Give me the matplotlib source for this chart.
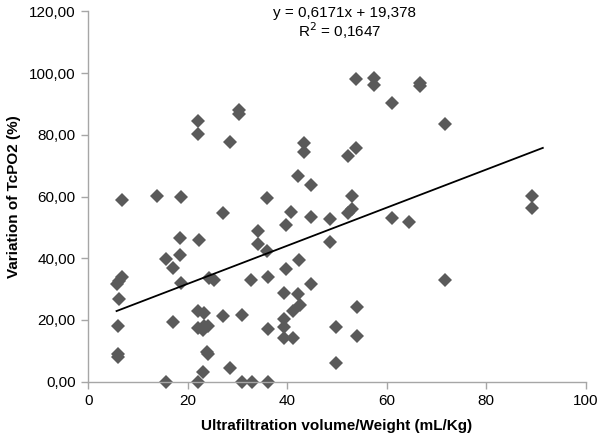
import numpy as np
import matplotlib.pyplot as plt
from matplotlib.ticker import FuncFormatter

plt.rcParams['font.family'] = ['Liberation Sans', 'DejaVu Sans']
plt.rcParams['font.size'] = 10

# ultrafiltration volume / weight (mL/Kg)
uf = [6.8, 13.8, 18.6, 22.0, 22.0, 30.4, 30.4, 28.5, 27.2, 18.4,
      22.2, 15.6, 18.5, 53.8, 57.5, 57.5, 61.0, 43.4, 43.4, 52.3,
      53.9, 42.2, 44.7, 35.9, 53.0, 40.8, 39.7, 44.7, 48.6, 52.3,
      53.0, 61.0, 64.5, 34.1, 34.1, 35.9, 48.6, 42.4, 66.8, 66.8,
      71.7, 89.3, 89.3, 17.1, 6.7, 6.2, 5.7, 18.6, 24.3, 25.3,
      32.7, 6.2, 22.0, 23.3, 27.2, 30.9, 17.1, 5.9, 22.1, 23.0,
      24.1, 23.2, 23.8, 24.0, 5.9, 5.9, 23.0, 28.5, 15.6, 22.1,
      30.9, 33.0, 36.2, 39.7, 36.2, 44.7, 39.4, 42.2, 42.6, 41.1,
      39.4, 39.4, 36.2, 39.4, 41.1, 54.0, 49.9, 54.0, 49.9, 71.7]

# variation of TcPO2 (%)
tcpo2 = [58.9, 60.2, 59.8, 84.5, 80.3, 88.1, 86.8, 77.6, 54.7, 46.5,
         46.0, 39.7, 41.0, 98.1, 98.3, 96.2, 90.2, 77.5, 74.4, 73.2,
         75.8, 66.8, 63.9, 59.6, 60.2, 55.1, 50.8, 53.4, 52.7, 54.6,
         55.9, 53.2, 51.9, 48.8, 44.5, 42.5, 45.2, 39.3, 96.9, 95.8,
         83.5, 60.2, 56.3, 37.0, 33.8, 32.7, 31.7, 32.1, 33.5, 33.0,
         33.0, 26.9, 23.0, 22.2, 21.3, 21.5, 19.3, 18.0, 17.3, 16.8,
         18.1, 18.1, 9.7, 8.9, 8.9, 8.1, 3.2, 4.3, 0.0, 0.0,
         0.0, 0.0, 0.0, 36.4, 33.8, 31.6, 28.7, 28.3, 24.9, 22.9,
         20.3, 17.8, 17.1, 14.2, 14.3, 24.3, 17.8, 14.7, 6.0, 33.0]

slope = 0.6171
intercept = 19.378

fig = plt.figure(figsize=(6, 4.41), dpi=100)
ax = fig.add_axes([0.147, 0.1345, 0.829, 0.8395])

ax.plot(uf, tcpo2, 'D', color='#5a5a5a', markersize=6.8, markeredgewidth=0, clip_on=False)

xl = np.array([min(uf), max(uf) + 2.1])
ax.plot(xl, slope * xl + intercept, color='black', linewidth=1.3)

ax.set_xlim(0, 100)
ax.set_ylim(0, 120)
ax.set_xticks(np.arange(0, 101, 20))
ax.set_yticks(np.arange(0, 121, 20))
ax.yaxis.set_major_formatter(FuncFormatter(lambda v, p: ('%.2f' % v).replace('.', ',')))

for s in ['top', 'right']:
    ax.spines[s].set_visible(False)
for s in ['left', 'bottom']:
    ax.spines[s].set_color('#a6a6a6')
    ax.spines[s].set_linewidth(1.0)
ax.tick_params(direction='out', length=5, width=1, color='#a6a6a6', labelsize=11, pad=4)

ax.set_xlabel('Ultrafiltration volume/Weight (mL/Kg)', fontsize=11, fontweight='bold', labelpad=8)
ax.set_ylabel('Variation of TcPO2 (%)', fontsize=11, fontweight='bold', labelpad=6)

ax.text(51.6, 119.6, 'y = 0,6171x + 19,378', ha='center', va='center', fontsize=11, clip_on=False)
ax.text(50.6, 113.9, 'R$^2$ = 0,1647', ha='center', va='center', fontsize=11, clip_on=False)

plt.savefig('out.png', dpi=100)
